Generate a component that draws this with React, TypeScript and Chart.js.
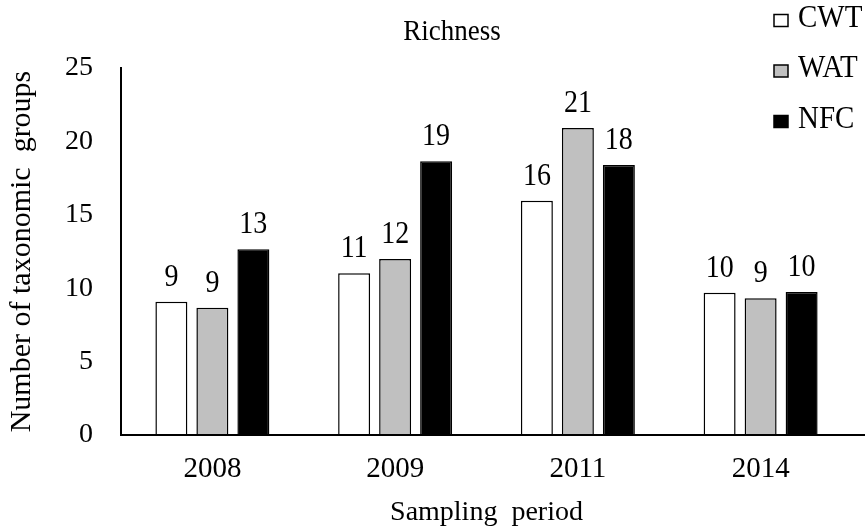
import { useEffect, useRef } from 'react';
import { Chart, registerables } from 'chart.js';

Chart.register(...registerables);

const categories = ['2008', '2009', '2011', '2014'];
const seriesNames = ['CWT', 'WAT', 'NFC'];
const cwtValues = [9.08, 11.01, 15.96, 9.69];
const watValues = [8.67, 11.99, 20.91, 9.31];
const nfcValues = [12.65, 18.64, 18.39, 9.74];
const yMin = 0;
const yMax = 25;
const yStep = 5;
const chartTitle = 'Richness';
const xTitle = 'Sampling  period';
const yTitle = 'Number of taxonomic  groups';

const FONT = '"Liberation Serif", "Times New Roman", Times, serif';

const fills = ['#ffffff', '#c0c0c0', '#000000'];

function drawStretched(ctx: any, text: string, x: number, y: number, sy: number) {
  ctx.save();
  ctx.translate(x, y);
  ctx.scale(1, sy);
  ctx.fillText(text, 0, 0);
  ctx.restore();
}

const titlePlugin = {
  id: 'customTitle',
  afterDraw(chart: any) {
    const ctx = chart.ctx;
    ctx.save();
    ctx.font = `27px ${FONT}`;
    ctx.fillStyle = '#000';
    ctx.textAlign = 'center';
    ctx.textBaseline = 'alphabetic';
    drawStretched(ctx, chartTitle, 452, 40, 1.12);
    ctx.restore();
  },
};

const legendPlugin = {
  id: 'customLegend',
  afterDraw(chart: any) {
    const ctx = chart.ctx;
    ctx.save();
    ctx.font = `29px ${FONT}`;
    ctx.textAlign = 'left';
    ctx.textBaseline = 'alphabetic';
    chart.data.datasets.forEach((ds: any, i: number) => {
      const baseline = 26.5 + i * 50.5;
      ctx.fillStyle = ds.backgroundColor;
      ctx.fillRect(774, baseline - 12, 14, 12);
      ctx.lineWidth = 1.5;
      ctx.strokeStyle = '#000';
      ctx.strokeRect(774, baseline - 12, 14, 12);
      ctx.fillStyle = '#000';
      drawStretched(ctx, ds.label, 798, baseline, 1.12);
    });
    ctx.restore();
  },
};

const valueLabelPlugin = {
  id: 'valueLabels',
  afterDatasetsDraw(chart: any) {
    const ctx = chart.ctx;
    ctx.save();
    ctx.font = `28px ${FONT}`;
    ctx.fillStyle = '#000';
    ctx.textAlign = 'center';
    ctx.textBaseline = 'alphabetic';
    chart.data.datasets.forEach((ds: any, i: number) => {
      const meta = chart.getDatasetMeta(i);
      meta.data.forEach((el: any, j: number) => {
        const v = ds.data[j];
        drawStretched(ctx, String(Math.round(v)), el.x, el.y - 16, 1.1);
      });
    });
    ctx.restore();
  },
};

const xAxisLinePlugin = {
  id: 'xAxisLine',
  afterDraw(chart: any) {
    const ctx = chart.ctx;
    const { left, bottom } = chart.chartArea;
    ctx.save();
    ctx.strokeStyle = '#000';
    ctx.lineWidth = 2;
    ctx.beginPath();
    ctx.moveTo(left - 1, bottom);
    ctx.lineTo(chart.width - 3, bottom);
    ctx.stroke();
    ctx.restore();
  },
};

export default function App() {
  const canvasRef = useRef<HTMLCanvasElement | null>(null);

  useEffect(() => {
    document.body.style.margin = '0';
    const canvas = canvasRef.current;
    if (!canvas) return;
    const seriesValues = [cwtValues, watValues, nfcValues];
    const chart = new Chart(canvas, {
      type: 'bar',
      data: {
        labels: categories,
        datasets: seriesNames.map((name, i) => ({
          label: name,
          data: seriesValues[i],
          backgroundColor: fills[i],
          borderColor: '#000000',
          borderWidth: 1.5,
          categoryPercentage: 0.673,
          barPercentage: 0.78,
        })),
      },
      options: {
        animation: false,
        responsive: true,
        maintainAspectRatio: false,
        devicePixelRatio: 1,
        layout: { padding: { left: 0, right: 16, top: 68, bottom: 0 } },
        plugins: {
          legend: { display: false },
          title: { display: false },
          tooltip: { enabled: false },
        },
        scales: {
          x: {
            grid: { display: false, drawTicks: false },
            border: { display: false },
            ticks: {
              color: '#000',
              font: { family: FONT, size: 29 },
              padding: 17,
            },
            title: {
              display: true,
              text: xTitle,
              color: '#000',
              font: { family: FONT, size: 28 },
              padding: { top: 0, bottom: -1 },
            },
            afterFit(scale: any) {
              scale.height = 93;
            },
          },
          y: {
            min: yMin,
            max: yMax,
            grid: { display: false, drawTicks: false },
            border: { display: true, color: '#000', width: 2 },
            ticks: {
              stepSize: yStep,
              color: '#000',
              font: { family: FONT, size: 28 },
              padding: 28,
            },
            title: {
              display: true,
              text: yTitle,
              color: '#000',
              font: { family: FONT, size: 30 },
              padding: { top: 4, bottom: 0 },
            },
            afterFit(scale: any) {
              scale.width = 121;
            },
          },
        },
      },
      plugins: [titlePlugin, legendPlugin, valueLabelPlugin, xAxisLinePlugin],
    });
    return () => chart.destroy();
  }, []);

  return (
    <div style={{ position: 'relative', width: 868, height: 528 }}>
      <canvas ref={canvasRef} />
    </div>
  );
}
